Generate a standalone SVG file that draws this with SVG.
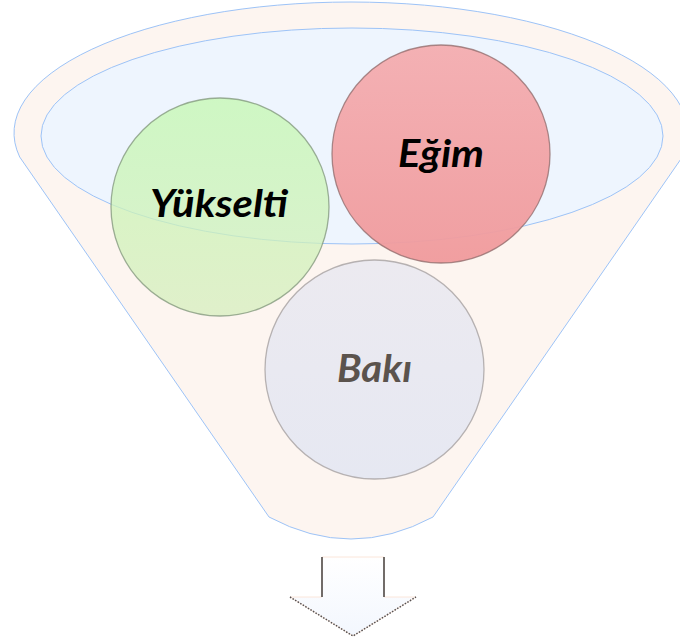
<svg xmlns="http://www.w3.org/2000/svg" width="680" height="642" viewBox="0 0 680 642">
  <style>
    .rim { fill: #FDF5F0; stroke: #9DC3F7; stroke-width: 1; }
    .mouth { fill: #EEF5FE; stroke: #9DC3F7; stroke-width: 1; }
    .ball { stroke-width: 1.3; stroke-opacity: 0.75; }
    .label { font-family: Lato, "Open Sans", "Noto Sans", sans-serif; font-weight: bold; font-style: italic; font-size: 38px; text-anchor: middle; }
  </style>
  <defs>
    <linearGradient id="gGreen" x1="0" y1="0" x2="0" y2="1">
      <stop offset="0" stop-color="#C4F8B0" stop-opacity="0.75"/>
      <stop offset="1" stop-color="#D6EEBE" stop-opacity="0.75"/>
    </linearGradient>
    <linearGradient id="gRed" x1="0" y1="0" x2="0" y2="1">
      <stop offset="0" stop-color="#F4ADB0" stop-opacity="0.95"/>
      <stop offset="1" stop-color="#F09A9C" stop-opacity="0.95"/>
    </linearGradient>
    <linearGradient id="gGray" x1="0" y1="0" x2="0" y2="1">
      <stop offset="0" stop-color="#ECEAF0"/>
      <stop offset="1" stop-color="#E6E8F2"/>
    </linearGradient>
    <linearGradient id="gArrow" x1="0" y1="0" x2="0" y2="1">
      <stop offset="0" stop-color="#FFFFFF"/>
      <stop offset="1" stop-color="#F3F7FE"/>
    </linearGradient>
  </defs>

  <!-- funnel body -->
  <g id="funnel">
    <path class="rim" d="M 19.7,157 A 337 131 0 1 1 682.3,157 L 433,517 Q 351,561 269,517 Z"/>
    <ellipse class="mouth" cx="352" cy="136" rx="311" ry="108"/>
  </g>

  <g id="node-yukselti">
    <circle class="ball" cx="220" cy="207" r="109" fill="url(#gGreen)" stroke="#7F947A"/>
    <text class="label" x="219" y="217" fill="#000000" textLength="138" lengthAdjust="spacingAndGlyphs">Yükselti</text>
  </g>

  <g id="node-egim">
    <circle class="ball" cx="441" cy="154" r="109" fill="url(#gRed)" stroke="#8E6A6A"/>
    <text class="label" x="441" y="167" fill="#000000" textLength="86" lengthAdjust="spacingAndGlyphs">Eğim</text>
  </g>

  <g id="node-baki">
    <circle class="ball" cx="374.5" cy="369.5" r="109.5" fill="url(#gGray)" stroke="#A29C9C"/>
    <text class="label" x="374.5" y="382" fill="#5B534D" textLength="75" lengthAdjust="spacingAndGlyphs">Bakı</text>
  </g>

  <!-- output arrow -->
  <g id="connectors">
    <polygon points="322,557 384,557 384,597 416,597 353,636 290,597 322,597" fill="url(#gArrow)" stroke="#FBE6DA" stroke-width="1"/>
    <line x1="322" y1="557" x2="322" y2="597" stroke="#4E4A48" stroke-width="1.6"/>
    <line x1="384" y1="557" x2="384" y2="597" stroke="#4E4A48" stroke-width="1.6"/>
    <polyline points="290,597 353,636 416,597" fill="none" stroke="#555050" stroke-width="1.5" stroke-dasharray="1.5 1.5"/>
  </g>
</svg>
